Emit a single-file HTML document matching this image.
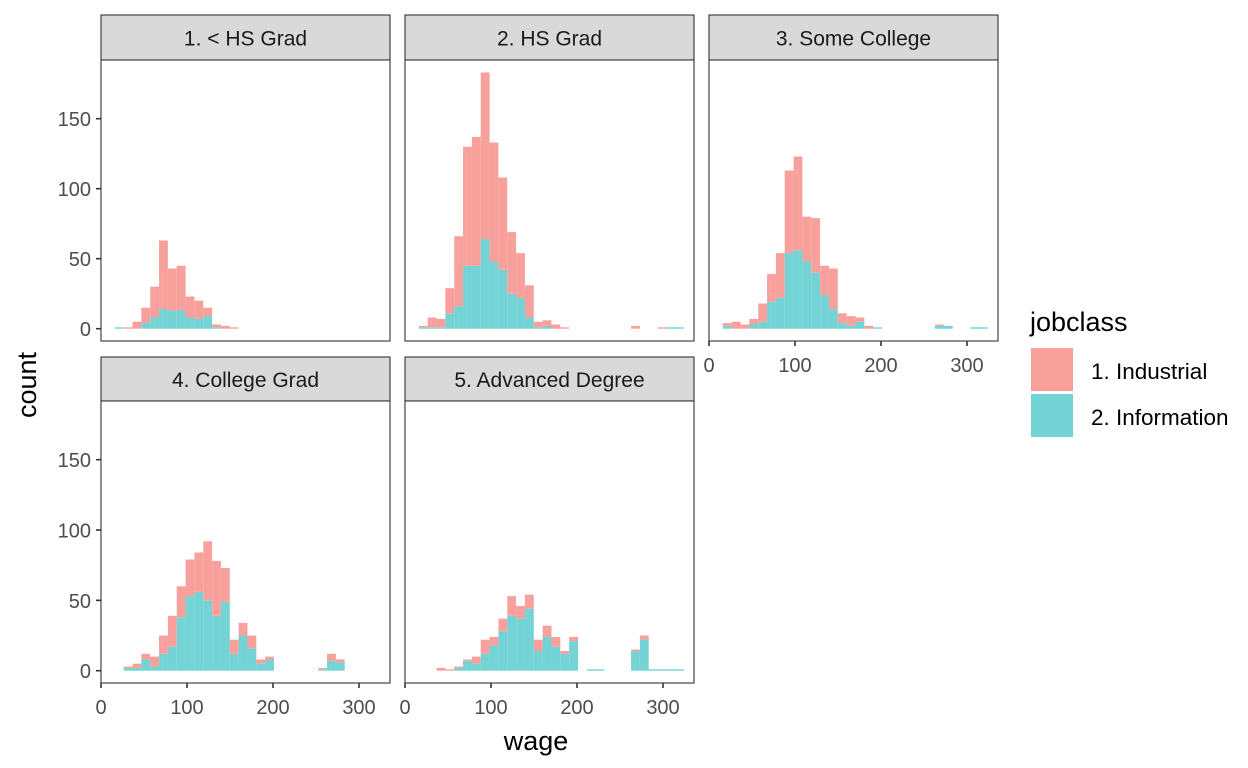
<!DOCTYPE html>
<html><head><meta charset="utf-8"><style>
body{margin:0;background:#fff;}
svg{display:block;font-family:"Liberation Sans",Arial,sans-serif;}
</style></head><body>
<svg id="chart" width="1248" height="768" viewBox="0 0 1248 768"></svg>
<script>
const panelTitles = ["1. < HS Grad","2. HS Grad","3. Some College","4. College Grad","5. Advanced Degree"];
const industrial1 = [0,1,5,11,22,49,30,32,15,13,6,2,2,1,0,0,0,0,0,0,0,0,0,0,0,0,0,0,0,0];
const information1 = [1,0,0,4,8,14,13,13,8,7,9,1,0,0,0,0,0,0,0,0,0,0,0,0,0,0,0,0,0,0];
const industrial2 = [1,7,6,18,50,85,92,119,85,66,44,32,23,4,4,3,1,0,0,0,0,0,0,0,2,0,0,1,0,0];
const information2 = [1,1,1,11,16,45,45,64,48,42,25,22,8,1,2,0,0,0,0,0,0,0,0,0,0,0,0,0,1,1];
const industrial3 = [2,5,3,4,13,20,32,59,67,32,39,21,29,7,7,3,2,0,0,0,0,0,0,0,1,0,0,0,0,0];
const information3 = [2,0,0,3,5,19,22,54,56,48,40,24,14,4,2,5,0,1,0,0,0,0,0,0,2,2,0,0,1,1];
const industrial4 = [0,1,3,4,7,13,22,22,26,28,42,39,24,10,9,9,3,2,0,0,0,0,0,1,5,2,0,0,0,0];
const information4 = [0,2,2,8,3,12,17,38,53,56,50,39,49,12,25,16,5,8,0,0,0,0,0,1,7,6,0,0,0,0];
const industrial5 = [0,0,2,1,1,1,5,10,6,9,14,9,10,8,8,7,2,3,0,0,0,0,0,0,1,3,0,0,0,0];
const information5 = [0,0,0,0,2,7,5,12,18,28,39,37,44,14,24,17,12,21,0,1,1,0,0,0,14,22,1,1,1,1];
const yTicks = [0,50,100,150];
const xTicks = [0,100,200,300];
const binStart = 14.95, binWidth = 10.28;

const svg = document.getElementById('chart');
const NS = 'http://www.w3.org/2000/svg';
function mk(tag, attrs, text){const e=document.createElementNS(NS,tag);for(const k in attrs)e.setAttribute(k,attrs[k]);if(text!==undefined)e.textContent=text;svg.appendChild(e);return e;}

const cols=[101,405,709], W=289;
const rows=[{st:15,top:60,bot:341,zero:328.7,k:1.4},{st:357,top:401,bot:683,zero:670.7,k:1.407}];
const panels=[[0,0],[0,1],[0,2],[1,0],[1,1]];
const indAll=[industrial1,industrial2,industrial3,industrial4,industrial5];
const infAll=[information1,information2,information3,information4,information5];
function xs(left,w){return left+1+0.86*w;}

panels.forEach((p,pi)=>{
  const r=rows[p[0]], left=cols[p[1]];
  const ys=v=>r.zero-v*r.k;
  let e=mk('rect',{x:left,y:r.st,width:W,height:r.top-r.st,fill:'#D9D9D9',stroke:'#333',"stroke-width":1.1});
  
  
  e=mk('text',{x:left+W/2,y:(r.st+r.top)/2+8,"text-anchor":"middle","font-size":21,fill:'#1A1A1A'},panelTitles[pi]);
  
  
  e=mk('rect',{x:left,y:r.top,width:W,height:r.bot-r.top,fill:'#fff',stroke:'none'});
  
  
  const ind=indAll[pi], inf=infAll[pi];
  for(let i=0;i<ind.length;i++){
    const x0=xs(left,binStart+i*binWidth), x1=xs(left,binStart+(i+1)*binWidth);
    if(inf[i]>0){
      e=mk('rect',{x:x0,y:ys(inf[i]),width:x1-x0,height:inf[i]*r.k,fill:'#74D3D5'});
      
      
    }
    if(ind[i]>0){
      e=mk('rect',{x:x0,y:ys(inf[i]+ind[i]),width:x1-x0,height:ind[i]*r.k,fill:'#F8A19C'});
      
      
    }
  }
  e=mk('rect',{x:left,y:r.top,width:W,height:r.bot-r.top,fill:'none',stroke:'#333',"stroke-width":1.1});
  
  
  if(p[1]===0){
    yTicks.forEach(t=>{
      mk('line',{x1:left-5,x2:left,y1:ys(t),y2:ys(t),stroke:'#333',"stroke-width":1.6});
      e=mk('text',{x:left-10,y:ys(t)+7.5,"text-anchor":"end","font-size":20,fill:'#4D4D4D'},t);
      
      
    });
  }
  if(pi>=2){
    xTicks.forEach(t=>{
      mk('line',{x1:xs(left,t)-1,x2:xs(left,t)-1,y1:r.bot,y2:r.bot+5,stroke:'#333',"stroke-width":1.6});
      e=mk('text',{x:xs(left,t)-1,y:r.bot+31,"text-anchor":"middle","font-size":20,fill:'#4D4D4D'},t);
      
      
    });
  }
});
let e=mk('text',{x:536,y:750,"text-anchor":"middle","font-size":27,fill:'#000'},'wage');


e=mk('text',{x:36,y:385,"text-anchor":"middle","font-size":27,fill:'#000',transform:'rotate(-90 36 385)'},'count');


e=mk('text',{x:1030,y:331,"font-size":27,fill:'#000'},'jobclass');


e=mk('rect',{x:1031,y:348,width:42,height:43,fill:'#F8A19C'});


e=mk('text',{x:1091,y:379,"font-size":22.5,fill:'#000'},'1. Industrial');


e=mk('rect',{x:1031,y:394,width:42,height:43,fill:'#74D3D5'});


e=mk('text',{x:1091,y:425,"font-size":22.5,fill:'#000'},'2. Information');


</script>
</body></html>
